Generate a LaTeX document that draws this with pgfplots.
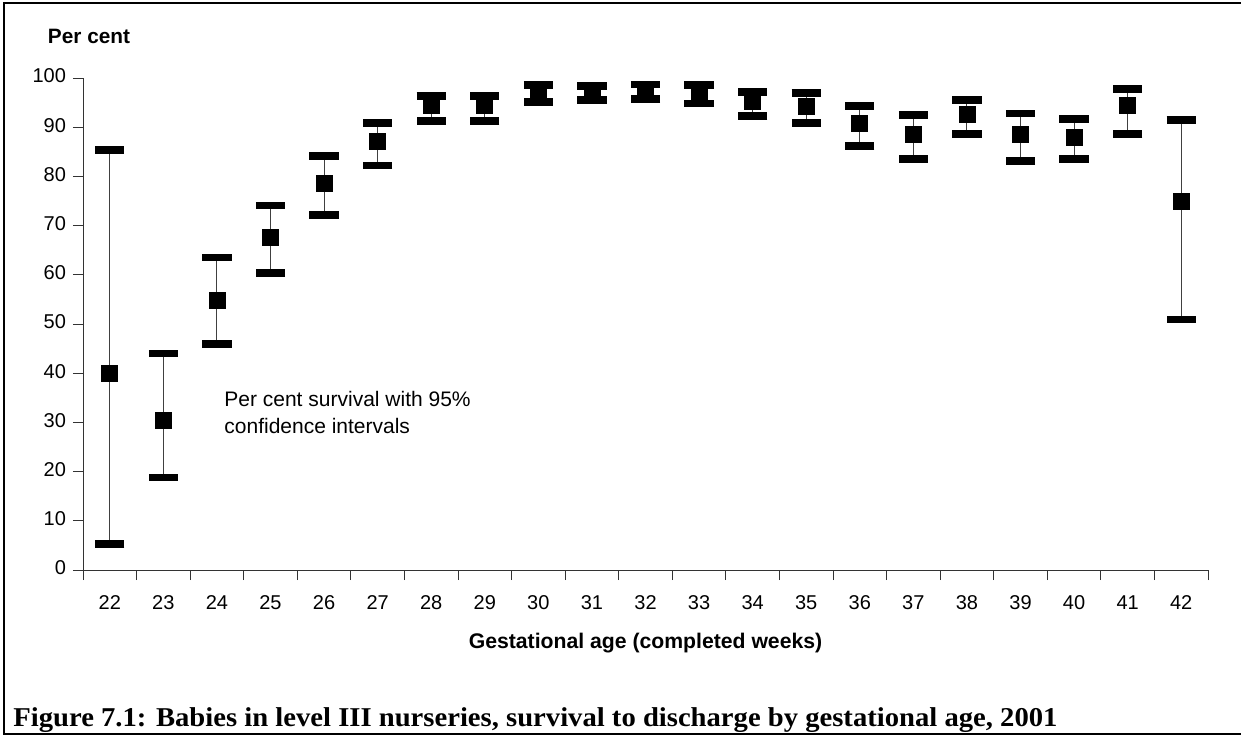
\documentclass[border=0pt]{standalone}
\usepackage{fontspec}
\setmainfont{Liberation Sans}
\newfontfamily\capfont{Liberation Serif}
\usepackage{pgfplots}
\usepackage{pgfplotstable}
\pgfplotsset{compat=1.18}

% week, survival, lower CI, upper CI
\pgfplotstableread{
wk  y     lo    hi
22  40.0  5.3   85.3
23  30.4  18.8  44.0
24  54.8  46.0  63.5
25  67.6  60.4  74.1
26  78.5  72.2  84.1
27  87.1  82.2  90.9
28  94.5  91.3  96.4
29  94.5  91.3  96.4
30  96.9  95.2  98.5
31  97.0  95.6  98.3
32  97.3  95.8  98.7
33  97.0  94.8  98.6
34  95.3  92.2  97.2
35  94.3  90.8  96.9
36  90.8  86.1  94.3
37  88.5  83.5  92.4
38  92.6  88.6  95.5
39  88.6  83.2  92.8
40  88.0  83.6  91.7
41  94.4  88.7  97.7
42  75.0  50.9  91.4
}\survival

\begin{document}
\begin{tikzpicture}
\useasboundingbox (0,0) rectangle (620.5pt,368pt);
\draw[line width=1.2pt] (620.5pt,366.5pt) -- (2pt,366.5pt) -- (2pt,1pt) -- (620.5pt,1pt);

\begin{axis}[
    at={(41.5pt,83pt)}, anchor=origin,
    scale only axis,
    width=562.5pt, height=246pt,
    xmin=21.5, xmax=42.5,
    ymin=0, ymax=100,
    axis x line*=bottom,
    axis y line*=left,
    axis line style={line width=0.5pt, black!80},
    xtick={22,...,42},
    minor xtick={21.5,22.5,...,42.5},
    ytick={0,10,...,100},
    major x tick style={draw=none},
    tick style={black!80, line width=0.5pt},
    tick align=outside,
    major tick length=5pt,
    minor tick length=5pt,
    typeset ticklabels with strut,
    ticklabel style={font=\fontsize{10}{12}\selectfont},
    /pgf/number format/assume math mode=true,
    xticklabel style={yshift=-3pt},
    xlabel={\textbf{Gestational age (completed weeks)}},
    xlabel style={font=\fontsize{10.6}{12}\selectfont, yshift=-1pt},
    clip=false,
]
\addplot[
    only marks,
    mark=square*,
    mark size=4pt,
    mark options={black},
    error bars/.cd,
        y dir=both, y explicit,
        error mark=|,
        error bar style={line width=0.55pt, black!75},
        error mark options={line width=3.9pt, mark size=7.3pt, black, line join=round},
] table[
    x=wk, y=y,
    y error plus expr=\thisrow{hi}-\thisrow{y},
    y error minus expr=\thisrow{y}-\thisrow{lo},
] {\survival};
\end{axis}

\node[font=\fontsize{10.4}{12}\selectfont\bfseries] at (44.5pt,350pt) {Per cent};
\node[font=\fontsize{10.5}{13.5}\selectfont, anchor=north west, align=left, inner sep=0pt]
    at (112pt,172.5pt) {Per cent survival with 95\%\\confidence intervals};
\node[font=\capfont\bfseries\fontsize{13.6}{15}\selectfont, anchor=base west, inner sep=0pt]
    at (6.5pt,5pt) {\scalebox{1.053}[1]{Figure 7.1: Babies in level III nurseries, survival to discharge by gestational age, 2001}};
\end{tikzpicture}
\end{document}
